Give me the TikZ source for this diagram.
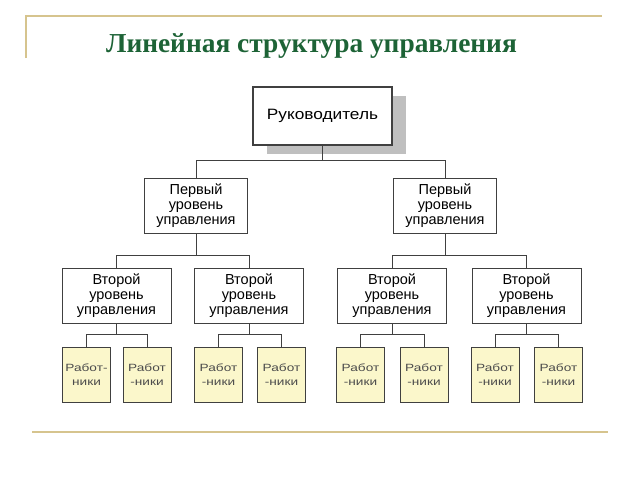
\documentclass[tikz,border=0pt]{standalone}
\usepackage{fontspec}
\setmainfont{Liberation Sans}
\newfontfamily\ttlfont{Liberation Serif}
\newfontfamily\wkfont[FakeStretch=1.3]{Liberation Sans}
\newfontfamily\bossfont[FakeStretch=1.15]{Liberation Sans}
\usetikzlibrary{shapes,shadows}
\definecolor{gold}{HTML}{D6C48E}
\definecolor{ttlgreen}{HTML}{1D6336}
\definecolor{wfill}{HTML}{FBF7CB}
\tikzstyle{bx}=[draw=black!75,fill=white,line width=0.8pt,minimum width=109pt,minimum height=55pt,inner sep=0pt,align=center,font=\fontsize{14.5}{15}\selectfont]
\tikzstyle{wk}=[draw=black!75,fill=wfill,line width=0.8pt,minimum width=48pt,minimum height=55pt,inner sep=0pt,align=center,font=\wkfont\fontsize{10.5}{14}\selectfont,text=black!70]
\tikzstyle{ln}=[draw=black!75,line width=0.8pt]

\begin{document}
\begin{tikzpicture}[x=1pt,y=-1pt]
	\useasboundingbox (0,0) rectangle (640,480);
	% frame lines
	\draw[gold,line width=1.5pt] (26,58) -- (26,16) -- (602,16);
	\draw[gold,line width=1.5pt] (32,432) -- (608,432);
	\node[anchor=base,text=ttlgreen,font=\ttlfont\bfseries\fontsize{27.4}{30}\selectfont] (title) at (311.5,52) {Линейная структура управления};
	% head
	\node[bx,minimum width=139pt,minimum height=58pt,line width=1.2pt,font=\bossfont\fontsize{15}{16}\selectfont,
		drop shadow={shadow xshift=14pt,shadow yshift=-9pt,fill=black!25,opacity=1}] (boss) at (322.5,116) {Руководитель};
	% first level
	\node[bx,minimum width=103pt] (l1a) at (196,205.5) {Первый\\уровень\\управления};
	\node[bx,minimum width=103pt] (l1b) at (445,205.5) {Первый\\уровень\\управления};
	% second level
	\foreach \n/\x in {a/116.5,b/249,c/392,d/526.5}
	\node[bx] (l2\n) at (\x,295.5) {Второй\\уровень\\управления};
	% workers
	\node[wk] (w1) at (86.5,374.5) {Работ-\\ники};
	\foreach \n/\x in {2/147,3/218.5,4/281.5,5/360.5,6/424,7/495,8/558.5}
	\node[wk] (w\n) at (\x,374.5) {Работ\\-ники};
	% connectors
	\foreach \t in {l1a,l1b}
	\draw[ln] (boss.south) -- ++(0,15) -| (\t.north);
	\foreach \t in {l2a,l2b}
	\draw[ln] (l1a.south) -- ++(0,22) -| (\t.north);
	\foreach \t in {l2c,l2d}
	\draw[ln] (l1b.south) -- ++(0,22) -| (\t.north);
	\foreach \s/\a/\b in {l2a/w1/w2,l2b/w3/w4,l2c/w5/w6,l2d/w7/w8}
	{
	\draw[ln] (\s.south) -- ++(0,11) -| (\a.north);
	\draw[ln] (\s.south) -- ++(0,11) -| (\b.north);
	}
\end{tikzpicture}
\end{document}
